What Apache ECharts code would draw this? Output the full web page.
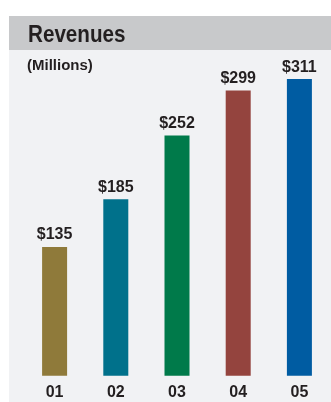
<!DOCTYPE html>
<html>
<head>
<meta charset="utf-8">
<script src="https://cdn.jsdelivr.net/npm/echarts@6/dist/echarts.min.js"></script>
<style>
  html, body { margin: 0; padding: 0; background: #ffffff; }
  #chart { width: 331px; height: 402px; }
</style>
</head>
<body>
<div id="chart"></div>
<script>
// Fiscal years and revenues (in millions of dollars)
const years = ['01', '02', '03', '04', '05'];
const revenues = [135, 185, 252, 299, 311];
const barColors = ['#8f7a3a', '#00718b', '#007a4a', '#94443e', '#005ca2'];

const chart = echarts.init(document.getElementById('chart'), null, { renderer: 'canvas' });

const option = {
  backgroundColor: '#ffffff',
  animation: false,
  graphic: [
    // light panel behind the whole chart
    { type: 'rect', left: 9, top: 16, shape: { width: 322, height: 386 }, style: { fill: '#f1f2f4' }, z: -10 },
    // header band
    { type: 'rect', left: 9, top: 16, shape: { width: 322, height: 34 }, style: { fill: '#c8c9cb' }, z: -9 },
    {
      type: 'text', x: 28, y: 23, scaleX: 0.86,
      style: { text: 'Revenues', fill: '#231f20', font: 'bold 24px "Liberation Sans", sans-serif' }
    },
    {
      type: 'text', x: 27, y: 58,
      style: { text: '(Millions)', fill: '#231f20', font: 'bold 15px "Liberation Sans", sans-serif' }
    }
  ],
  grid: { left: 24, right: 1, top: 61, bottom: 26.3, containLabel: false },
  xAxis: {
    type: 'category',
    data: years,
    axisLine: { show: false },
    axisTick: { show: false },
    axisLabel: {
      color: '#231f20',
      fontFamily: '"Liberation Sans", sans-serif',
      fontWeight: 'bold',
      fontSize: 16,
      margin: 9
    }
  },
  yAxis: {
    type: 'value',
    min: 0,
    max: 330,
    show: false,
    splitLine: { show: false }
  },
  series: [{
    type: 'bar',
    barWidth: 25,
    data: revenues.map((v, i) => ({ value: v, itemStyle: { color: barColors[i] } })),
    label: {
      show: true,
      position: 'top',
      distance: 4,
      formatter: p => '$' + p.value,
      color: '#231f20',
      fontFamily: '"Liberation Sans", sans-serif',
      fontWeight: 'bold',
      fontSize: 16
    }
  }]
};

chart.setOption(option);
</script>
</body>
</html>
